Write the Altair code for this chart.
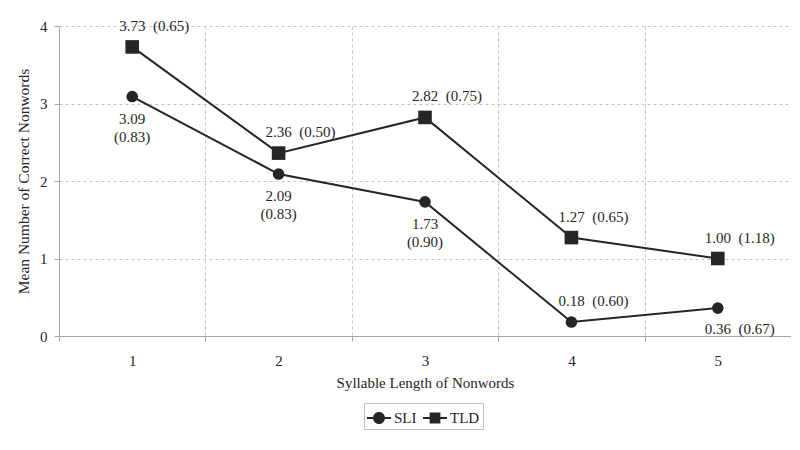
import altair as alt
import pandas as pd

# ---- data ----
lengths = [1, 2, 3, 4, 5]
sli_mean = [3.09, 2.09, 1.73, 0.18, 0.36]
sli_sd = [0.83, 0.83, 0.90, 0.60, 0.67]
tld_mean = [3.73, 2.36, 2.82, 1.27, 1.00]
tld_sd = [0.65, 0.50, 0.75, 0.65, 1.18]
groups = ["SLI", "TLD"]
y_ticks = [0, 1, 2, 3, 4]

# where each value label sits relative to its marker
sli_label_place = ["below2", "below2", "below2", "above", "below"]
tld_label_place = ["above", "above", "above", "above", "above"]

rows = []
for g, means, sds, places in [
    ("SLI", sli_mean, sli_sd, sli_label_place),
    ("TLD", tld_mean, tld_sd, tld_label_place),
]:
    for L, m, s, p in zip(lengths, means, sds, places):
        if p == "below2":
            lab = f"{m:.2f}\n({s:.2f})"
        else:
            lab = f"{m:.2f}\u00a0\u00a0({s:.2f})"
        rows.append(dict(length=L, mean=m, sd=s, group=g, place=p, label=lab))
df = pd.DataFrame(rows)

FONT = "Liberation Serif"
TXT = "#262626"
AXC = "#a6a6a6"
GRIDC = "#c4c4c4"
MARK = "#262626"

xscale = alt.Scale(domain=[0.5, 5.5], nice=False, zero=False)
yscale = alt.Scale(domain=[0, 4], nice=False, zero=True)

yenc = alt.Y(
    "mean:Q",
    scale=yscale,
    axis=alt.Axis(
        values=y_ticks, format="d", grid=True, gridDash=[3, 3], gridColor=GRIDC,
        tickSize=5, tickColor=AXC, domainColor=AXC, labelPadding=7,
        title="Mean Number of Correct Nonwords", titlePadding=8, titleFontSize=15.5,
    ),
)

base = alt.Chart(df)

lines = base.mark_line(color=MARK, strokeWidth=2).encode(
    x=alt.X(
        "length:Q", scale=xscale,
        axis=alt.Axis(
            values=lengths, format="d", grid=False, ticks=False, domain=True,
            domainColor=AXC, labelPadding=17, orient="bottom",
            title="Syllable Length of Nonwords", titlePadding=7,
        ),
    ),
    y=yenc,
    detail="group:N",
)

pts_sli = base.transform_filter(alt.datum.group == "SLI").mark_point(
    shape="circle", filled=True, size=135, color=MARK, opacity=1
).encode(
    x=alt.X(
        "length:Q", scale=xscale,
        axis=alt.Axis(
            values=[1.5, 2.5, 3.5, 4.5], grid=True, gridDash=[3, 3], gridColor=GRIDC,
            ticks=False, labels=False, domain=False, title=None, orient="bottom",
        ),
    ),
    y="mean:Q",
)

pts_tld = base.transform_filter(alt.datum.group == "TLD").mark_point(
    shape="square", filled=True, size=185, color=MARK, opacity=1
).encode(
    x=alt.X(
        "length:Q", scale=xscale,
        axis=alt.Axis(
            values=[0.5, 1.5, 2.5, 3.5, 4.5, 5.5], grid=False, ticks=True, tickSize=5,
            tickColor=AXC, labels=False, domain=False, title=None, orient="bottom",
        ),
    ),
    y="mean:Q",
)

txt_kw = dict(font=FONT, fontSize=15, color=TXT)

lab_above = base.transform_filter(alt.datum.place == "above").mark_text(
    align="left", baseline="middle", dx=-13, dy=-21, **txt_kw
).encode(x=alt.X("length:Q", scale=xscale, axis=None), y="mean:Q", text="label:N")

lab_below = base.transform_filter(alt.datum.place == "below").mark_text(
    align="left", baseline="middle", dx=-13, dy=21, **txt_kw
).encode(x=alt.X("length:Q", scale=xscale, axis=None), y="mean:Q", text="label:N")

lab_below2 = base.transform_filter(alt.datum.place == "below2").mark_text(
    align="center", baseline="top", dy=15, lineBreak="\n", lineHeight=18, **txt_kw
).encode(x=alt.X("length:Q", scale=xscale, axis=None), y="mean:Q", text="label:N")

circ_path = ("M-1,-0.085L1,-0.085L1,0.085L-1,0.085Z "
             "M0.5,0A0.5,0.5 0 1,1 -0.5,0A0.5,0.5 0 1,1 0.5,0Z")
sq_path = ("M-1,-0.085L1,-0.085L1,0.085L-1,0.085Z "
           "M-0.45,-0.45L0.45,-0.45L0.45,0.45L-0.45,0.45Z")

legend_layer = base.transform_filter("false").mark_point(
    filled=True, color=MARK, opacity=1
).encode(
    shape=alt.Shape(
        "group:N",
        scale=alt.Scale(domain=groups, range=[circ_path, sq_path]),
        legend=alt.Legend(
            title=None, orient="none", legendX=305, legendY=377, direction="horizontal",
            symbolSize=576, symbolFillColor=MARK, symbolStrokeWidth=0, symbolOpacity=1,
            labelFont=FONT, labelFontSize=15, labelColor=TXT, labelOffset=3,
            columnPadding=6, padding=3, strokeColor="#bfbfbf",
        ),
    )
)

chart = alt.layer(
    lines, pts_sli, pts_tld, lab_above, lab_below, lab_below2, legend_layer
).resolve_axis(x="independent").properties(
    width=732, height=310,
    autosize=alt.AutoSizeParams(type="none"),
    padding={"left": 51, "top": 18, "right": 0, "bottom": 100},
).configure_axis(
    labelFont=FONT, titleFont=FONT, labelFontSize=15, titleFontSize=15,
    labelColor=TXT, titleColor=TXT, titleFontWeight="normal",
).configure_view(stroke=None)

chart.save("out.html", embed_options={"renderer": "svg", "actions": False})
